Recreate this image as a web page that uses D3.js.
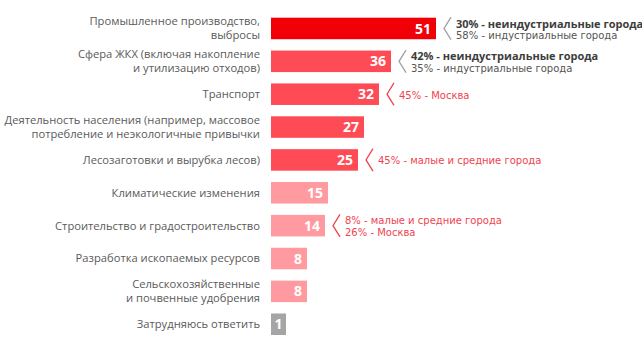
<!DOCTYPE html>
<html><head><meta charset="utf-8">
<script src="https://cdn.jsdelivr.net/npm/d3@7/dist/d3.min.js"></script>
<style>
html,body{margin:0;padding:0;background:#fff;}
svg{display:block;font-family:"Open Sans","Noto Sans",sans-serif;}
.ann{font-family:"DejaVu Sans",sans-serif;font-size:10px;}
.annb{font-family:"Open Sans",sans-serif;font-size:11px;}
</style></head>
<body><svg id="c" width="642" height="347"></svg>
<script>
const categories = [
  ["Промышленное производство,", "выбросы"],
  ["Сфера ЖКХ (включая накопление", "и утилизацию отходов)"],
  ["Транспорт"],
  ["Деятельность населения (например, массовое", "потребление и неэкологичные привычки"],
  ["Лесозаготовки и вырубка лесов)"],
  ["Климатические изменения"],
  ["Строительство и градостроительство"],
  ["Разработка ископаемых ресурсов"],
  ["Сельскохозяйственные", "и почвенные удобрения"],
  ["Затрудняюсь ответить"]
];
const values = [51, 36, 32, 27, 25, 15, 14, 8, 8, 1];
const groups = ["top", "mid", "mid", "mid", "mid", "low", "low", "low", "low", "none"];
// annotations: [category index, lines]
const annotations = [
  [0, [["30% - неиндустриальные города", "darkBold"], ["58% - индустриальные города", "dark"]]],
  [1, [["42% - неиндустриальные города", "darkBold"], ["35% - индустриальные города", "dark"]]],
  [2, [["45% - Москва", "red"]]],
  [4, [["45% - малые и средние города", "red"]]],
  [6, [["8% - малые и средние города", "red"], ["26% - Москва", "red"]]]
];

const colors = {top: "#f20007", mid: "#ff4b55", low: "#ff9ba0", none: "#a5a5a5"};
const textStyles = {
  darkBold: {fill: "#3d3d3d", weight: 700, cls: "annb"},
  dark: {fill: "#555", weight: 400, cls: "ann"},
  red: {fill: "#f0444f", weight: 400, cls: "ann"}
};
const bracketColor = {darkBold: "#a0a0a0", dark: "#a0a0a0", red: "#f0444f"};

const svg = d3.select("#c");
const x0 = 271;
const x = d3.scaleLinear().domain([-4, 51]).range([0, 165]);
const y = d3.scaleBand().domain(d3.range(values.length)).range([17.7, 335]).paddingInner(0.345).paddingOuter(0);
const bw = y.bandwidth();

const g = svg.append("g");

// bars
g.selectAll("rect.bar").data(values).join("rect")
  .attr("x", x0)
  .attr("y", (d, i) => y(i))
  .attr("width", d => x(d))
  .attr("height", bw)
  .attr("fill", (d, i) => colors[groups[i]]);

// value labels
g.selectAll("text.val").data(values).join("text")
  .attr("x", d => d < 5 ? x0 + x(d) / 2 : x0 + x(d) - 5)
  .attr("y", (d, i) => y(i) + bw / 2)
  .attr("dy", "0.36em")
  .attr("text-anchor", d => d < 5 ? "middle" : "end")
  .attr("fill", "#fff")
  .attr("font-weight", 700)
  .attr("font-size", 14)
  .text(d => d);

// category labels
categories.forEach((lines, i) => {
  const cy = y(i) + bw / 2;
  const lh = 14;
  const start = cy - (lines.length - 1) * lh / 2;
  const t = g.append("text")
    .attr("text-anchor", "end")
    .attr("fill", "#5a5a5a")
    .attr("font-size", 11.2);
  lines.forEach((l, k) => {
    t.append("tspan").attr("x", 260).attr("y", start + k * lh).attr("dy", "0.35em").text(l);
  });
});

// annotations
annotations.forEach(([i, lines]) => {
  const bx = x0 + x(values[i]) + 8;
  const top = y(i) - 0.5, bot = y(i) + bw + 0.5, mid = y(i) + bw / 2;
  g.append("path")
    .attr("d", d3.line()([[bx + 7, top], [bx, mid], [bx + 7, bot]]))
    .attr("fill", "none")
    .attr("stroke", bracketColor[lines[0][1]])
    .attr("stroke-width", 1.3);
  const lh = 11.5;
  const start = mid + 1 - (lines.length - 1) * lh / 2;
  lines.forEach(([txt, st], k) => {
    g.append("text")
      .attr("class", textStyles[st].cls)
      .attr("x", bx + 12)
      .attr("y", start + k * lh)
      .attr("dy", "0.35em")
      .attr("fill", textStyles[st].fill)
      .attr("font-weight", textStyles[st].weight)
      .text(txt);
  });
});
</script></body></html>
